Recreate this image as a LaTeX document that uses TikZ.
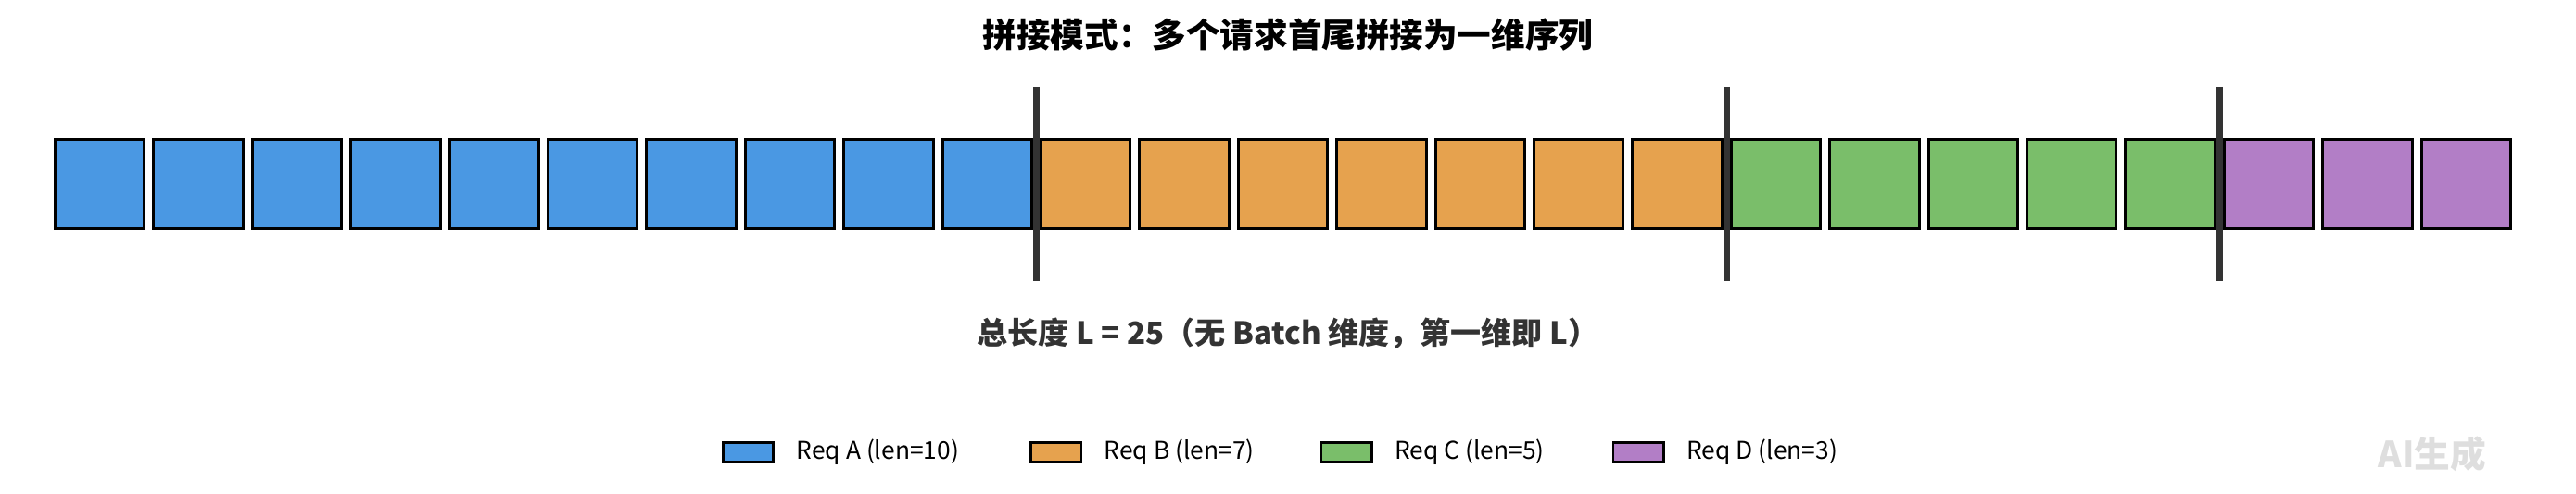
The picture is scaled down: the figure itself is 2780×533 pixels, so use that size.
\documentclass[tikz,border=0pt]{standalone}
\usepackage{fontspec}
\setmainfont{Noto Sans CJK SC}
\usetikzlibrary{calc,positioning}
\definecolor{reqA}{RGB}{74,152,227}
\definecolor{reqB}{RGB}{230,162,78}
\definecolor{reqC}{RGB}{122,190,106}
\definecolor{reqD}{RGB}{178,126,198}
\definecolor{sepgray}{RGB}{51,51,51}

\begin{document}
\begin{tikzpicture}
[ x=0.01cm, y=0.01cm
, token/.style={rectangle, draw=black, line width=0.85pt, inner sep=0pt, minimum width=0.964cm, minimum height=0.964cm}
, separator/.style={draw=sepgray, line width=1.85pt}
, patch/.style={rectangle, draw=black, line width=0.85pt, inner sep=0pt, minimum width=0.54cm, minimum height=0.21cm}
, legtext/.style={inner sep=0pt, anchor=west, font=\fontsize{7.5}{9}\selectfont}
, heading/.style={font=\bfseries\fontsize{10.4}{12}\selectfont}
, caption/.style={text=sepgray, font=\bfseries\fontsize{9.4}{11}\selectfont}
, watermark/.style={text=black!13, font=\bfseries\fontsize{11}{13}\selectfont}
]
\useasboundingbox (0,0) rectangle (2780,533);
\node (title) [heading] at (1390,495) {拼接模式：多个请求首尾拼接为一维序列};
% Tokens of the four requests:
\foreach \i in {1,...,10} \node (t\i) [token, fill=reqA] at ({107.7+(\i-1)*106.4},334.5) {};
\foreach \i in {11,...,17} \node (t\i) [token, fill=reqB] at ({107.7+(\i-1)*106.4},334.5) {};
\foreach \i in {18,...,22} \node (t\i) [token, fill=reqC] at ({107.7+(\i-1)*106.4},334.5) {};
\foreach \i in {23,...,25} \node (t\i) [token, fill=reqD] at ({107.7+(\i-1)*106.4},334.5) {};
% Boundaries between requests:
\foreach \a/\b [count=\k] in {10/11, 17/18, 22/23} {
  \coordinate (s\k top) at ($($(t\a.east)!.5!(t\b.west)$) + (0,104.5)$);
  \coordinate (s\k bot) at ($($(t\a.east)!.5!(t\b.west)$) + (0,-104.5)$);
  \draw [separator] (s\k top) -- (s\k bot);
}
\node (total) [caption] at (1390,173) {总长度 L = 25（无 Batch 维度，第一维即 L）};
% Legend:
\node (legA) [patch, fill=reqA] at (807.5,45) {};
\node (legAtext) [legtext, right=0.23cm of legA] {Req A (len=10)};
\node (legB) [patch, fill=reqB] at (1139.5,45) {};
\node (legBtext) [legtext, right=0.23cm of legB] {Req B (len=7)};
\node (legC) [patch, fill=reqC] at (1453,45) {};
\node (legCtext) [legtext, right=0.23cm of legC] {Req C (len=5)};
\node (legD) [patch, fill=reqD] at (1768,45) {};
\node (legDtext) [legtext, right=0.23cm of legD] {Req D (len=3)};
\node (mark) [watermark] at (2625,43) {AI生成};
\end{tikzpicture}
\end{document}
